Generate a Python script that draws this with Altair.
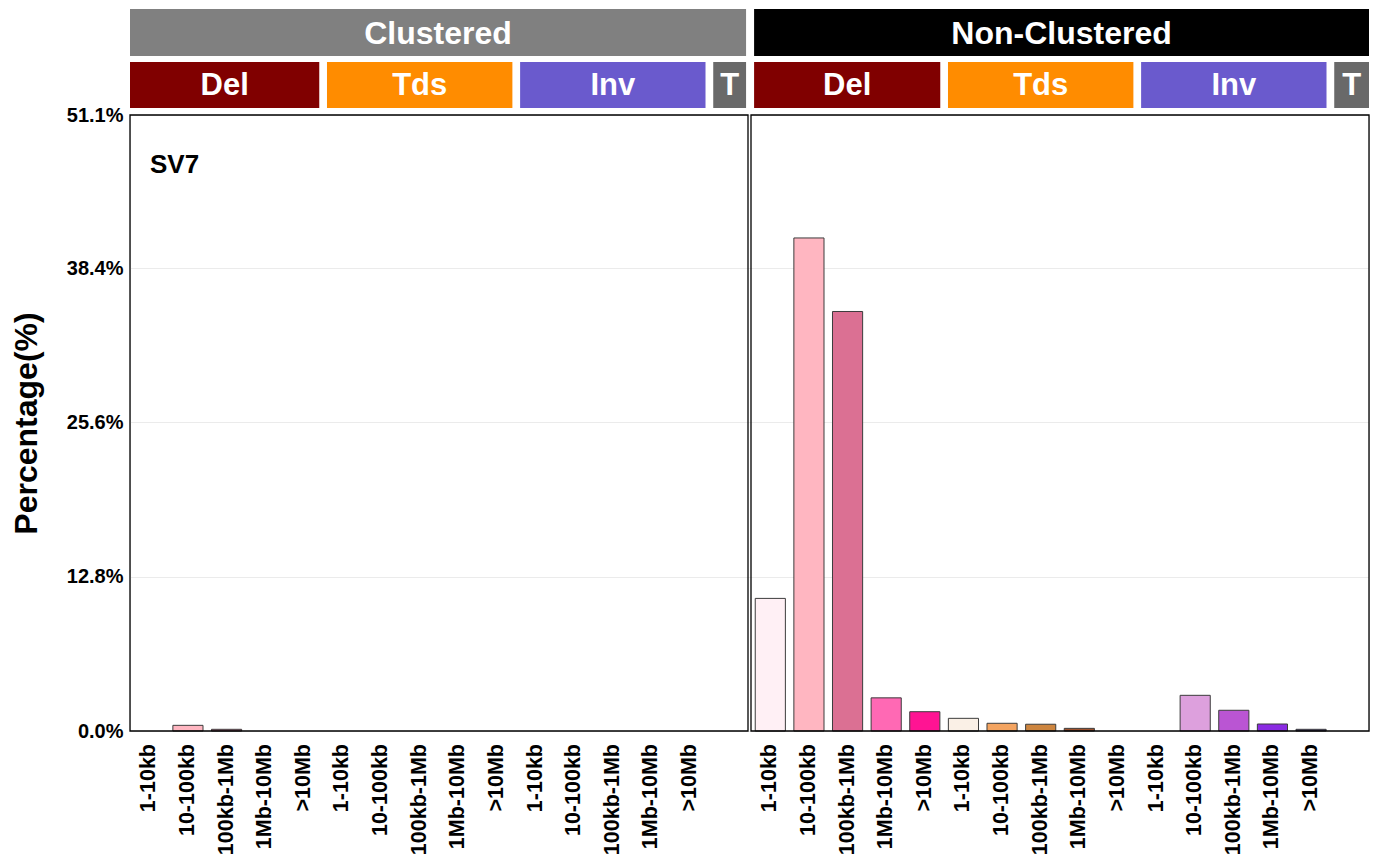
import altair as alt
import pandas as pd

# ---------------- data ----------------
SIZE_BINS = ['1-10kb', '10-100kb', '100kb-1Mb', '1Mb-10Mb', '>10Mb']
SV_GROUPS = ['Del', 'Tds', 'Inv', 'T']
PANELS = ['Clustered', 'Non-Clustered']

CLUSTERED_DEL = [0.0, 0.47, 0.14, 0.0, 0.0]
CLUSTERED_TDS = [0.0, 0.0, 0.0, 0.0, 0.0]
CLUSTERED_INV = [0.0, 0.0, 0.0, 0.0, 0.0]
CLUSTERED_T = [0.0]

NONCLUSTERED_DEL = [11.0, 40.9, 34.8, 2.75, 1.6]
NONCLUSTERED_TDS = [1.05, 0.64, 0.56, 0.22, 0.0]
NONCLUSTERED_INV = [0.0, 2.96, 1.72, 0.58, 0.14]
NONCLUSTERED_T = [0.0]

Y_MAX = 51.1
Y_TICKS = [0.0, 12.8, 25.6, 38.4, 51.1]
SIGNATURE = 'SV7'

DEL_COLORS = ['#FFF0F5', '#FFB6C1', '#DB7093', '#FF69B4', '#FF1493']
TDS_COLORS = ['#FAF0E6', '#F4A460', '#CD853F', '#A0522D', '#8B4513']
INV_COLORS = ['#E6E6FA', '#DDA0DD', '#BA55D3', '#8A2BE2', '#483D8B']
T_COLORS = ['#696969']
PANEL_COLORS = ['#808080', '#000000']
GROUP_COLORS = ['#800000', '#FF8C00', '#6A5ACD', '#696969']

# ---------------- layout ----------------
PANEL_W = 618
GAP = 3
SLOTS = 16
SLOT_PX = PANEL_W / SLOTS
P2 = (PANEL_W + GAP) / SLOT_PX          # x offset (slot units) of second panel
X_MAX = P2 + SLOTS
WIDTH = 2 * PANEL_W + GAP
HEIGHT = 616
FONT = 'Liberation Sans'
STRIP_GAP = 0.1                          # half gap between strips (slot units)
CENTER_INSET = [(0.0, 0.05), (0.08, 0.0)]  # strip inset (left, right) per panel

panel_values = [
    {'Del': CLUSTERED_DEL, 'Tds': CLUSTERED_TDS, 'Inv': CLUSTERED_INV, 'T': CLUSTERED_T},
    {'Del': NONCLUSTERED_DEL, 'Tds': NONCLUSTERED_TDS, 'Inv': NONCLUSTERED_INV, 'T': NONCLUSTERED_T},
]
group_colors = {'Del': DEL_COLORS, 'Tds': TDS_COLORS, 'Inv': INV_COLORS, 'T': T_COLORS}

bar_rows, strip_rows, frame_rows, label_rows = [], [], [], []
color_domain, color_range = [], []
for p, panel in enumerate(PANELS):
    off = p * P2
    inset_l, inset_r = CENTER_INSET[p]
    slot = 0
    frame_rows.append({'x0': off, 'x1': off + SLOTS})
    strip_rows.append({'x0': off + inset_l, 'x1': off + SLOTS - inset_r, 'label': panel,
                       'color': PANEL_COLORS[p], 'level': 'top'})
    for gi, g in enumerate(SV_GROUPS):
        vals = panel_values[p][g]
        start = slot
        for i, v in enumerate(vals):
            key = g if g == 'T' else f'{g} {SIZE_BINS[i]}'
            if p == 0:
                color_domain.append(key)
                color_range.append(group_colors[g][i])
            bar_rows.append({'panel': panel, 'group': g, 'key': key, 'value': v,
                             'x0': off + slot + 0.11, 'x1': off + slot + 0.89})
            label_rows.append({'xc': off + slot + 0.5,
                               'label': '' if g == 'T' else SIZE_BINS[i]})
            slot += 1
        sx0 = off + inset_l if start == 0 else off + start + STRIP_GAP
        sx1 = off + SLOTS - inset_r if slot == SLOTS else off + slot - STRIP_GAP
        strip_rows.append({'x0': sx0, 'x1': sx1, 'label': g,
                           'color': GROUP_COLORS[gi], 'level': 'sub'})

bars_df = pd.DataFrame(bar_rows)
strips_df = pd.DataFrame(strip_rows)
frames_df = pd.DataFrame(frame_rows)
labels_df = pd.DataFrame(label_rows)

xscale = alt.Scale(domain=[0, X_MAX], nice=False, zero=False)
yscale = alt.Scale(domain=[0, Y_MAX], nice=False, zero=True)
yaxis = alt.Axis(values=Y_TICKS, labelExpr="format(datum.value, '.1f') + '%'",
                 ticks=False, domain=False, grid=True, gridColor='#EBEBEB',
                 gridWidth=1, labelFontSize=20, labelFontWeight='bold',
                 labelColor='black', labelFont=FONT, labelPadding=7,
                 title='Percentage(%)', titleFontSize=32, titleFontWeight='bold',
                 titleFont=FONT, titleColor='black', titleX=-104,
                 titleY=HEIGHT / 2, titleAngle=270, titleAlign='center',
                 titleBaseline='middle')

bars = alt.Chart(bars_df).transform_filter('datum.value > 0').mark_rect(
    stroke='#3C3C3C', strokeWidth=1
).encode(
    x=alt.X('x0:Q', scale=xscale, axis=None),
    x2='x1:Q',
    y=alt.Y('value:Q', scale=yscale, axis=yaxis),
    y2=alt.datum(0),
    color=alt.Color('key:N', scale=alt.Scale(domain=color_domain, range=color_range),
                    legend=None),
)

frames = alt.Chart(frames_df).mark_rect(filled=False, stroke='black', strokeWidth=1.3).encode(
    x=alt.X('x0:Q', scale=xscale, axis=None),
    x2='x1:Q',
    y=alt.datum(Y_MAX, scale=yscale, axis=yaxis),
    y2=alt.datum(0),
)

x_labels = alt.Chart(labels_df).mark_text(
    font=FONT, fontSize=21.5, fontWeight='bold', color='black', angle=270,
    align='right', baseline='middle'
).encode(
    x=alt.X('xc:Q', scale=xscale, axis=None),
    y=alt.value(HEIGHT + 13),
    text='label:N',
)

top = strips_df[strips_df.level == 'top']
sub = strips_df[strips_df.level == 'sub']

top_rect = alt.Chart(top).mark_rect().encode(
    x=alt.X('x0:Q', scale=xscale, axis=None), x2='x1:Q',
    y=alt.value(-106), y2=alt.value(-59),
    color=alt.Color('color:N', scale=None),
)
top_text = alt.Chart(top).transform_calculate(xm='(datum.x0 + datum.x1) / 2').mark_text(
    color='white', font=FONT, fontSize=32, fontWeight='bold', baseline='middle', align='center',
    dy=1,
).encode(x=alt.X('xm:Q', scale=xscale, axis=None), y=alt.value(-82.5), text='label:N')

sub_rect = alt.Chart(sub).mark_rect().encode(
    x=alt.X('x0:Q', scale=xscale, axis=None), x2='x1:Q',
    y=alt.value(-53), y2=alt.value(-7),
    color=alt.Color('color:N', scale=None),
)
sub_text = alt.Chart(sub).transform_calculate(xm='(datum.x0 + datum.x1) / 2').mark_text(
    color='white', font=FONT, fontSize=31, fontWeight='bold', baseline='middle', align='center',
    dy=1,
).encode(x=alt.X('xm:Q', scale=xscale, axis=None), y=alt.value(-30), text='label:N')

sig_text = alt.Chart(pd.DataFrame({'t': [SIGNATURE]})).mark_text(
    font=FONT, fontSize=26, fontWeight='bold', color='black', align='left', baseline='middle'
).encode(x=alt.value(20), y=alt.value(50), text='t:N')

chart = alt.layer(bars, frames, x_labels, top_rect, top_text, sub_rect, sub_text,
                  sig_text).properties(
    width=WIDTH, height=HEIGHT,
    padding={'left': 122, 'top': 107, 'right': 2, 'bottom': 126},
    autosize=alt.AutoSizeParams(type='none'),
).configure_view(strokeWidth=0).configure_axisY(
    labelFontSize=20, labelFontWeight='bold', labelFont=FONT, labelColor='black'
).configure(background='white')

chart.save('out.html', embed_options={'renderer': 'svg', 'actions': False})
